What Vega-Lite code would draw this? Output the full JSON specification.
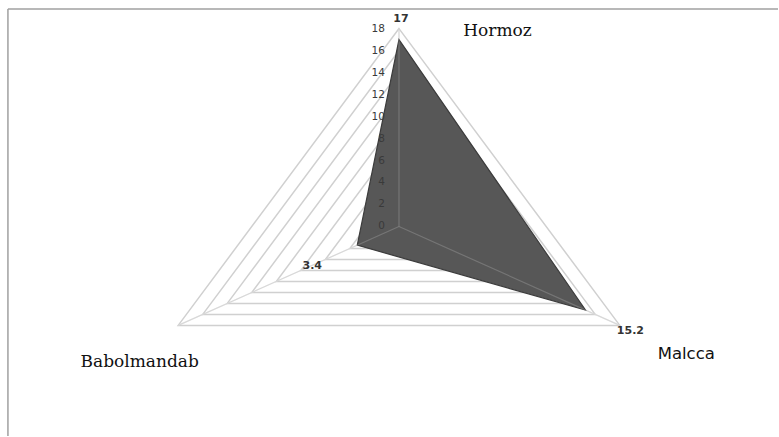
{
  "$schema": "https://vega.github.io/schema/vega-lite/v6.json",
  "width": 779,
  "height": 437,
  "autosize": {"type": "fit", "contains": "padding"},
  "padding": 0,
  "background": "white",
  "config": {"view": {"stroke": null}},
  "datasets": {
    "series": [
      {"axis": "Hormoz", "angle": 0, "value": 17},
      {"axis": "Malcca", "angle": 120, "value": 15.2},
      {"axis": "Babolmandab", "angle": 240, "value": 3.4}
    ],
    "grid": [
      {"level": 2, "angle": [0, 120, 240]},
      {"level": 4, "angle": [0, 120, 240]},
      {"level": 6, "angle": [0, 120, 240]},
      {"level": 8, "angle": [0, 120, 240]},
      {"level": 10, "angle": [0, 120, 240]},
      {"level": 12, "angle": [0, 120, 240]},
      {"level": 14, "angle": [0, 120, 240]},
      {"level": 16, "angle": [0, 120, 240]},
      {"level": 18, "angle": [0, 120, 240]}
    ],
    "ticks": [
      {"v": 0}, {"v": 2}, {"v": 4}, {"v": 6}, {"v": 8},
      {"v": 10}, {"v": 12}, {"v": 14}, {"v": 16}, {"v": 18}
    ]
  },
  "layer": [
    {
      "data": {"name": "grid"},
      "transform": [
        {"flatten": ["angle"]},
        {"calculate": "datum.level * sin(datum.angle * PI / 180)", "as": "px"},
        {"calculate": "datum.level * cos(datum.angle * PI / 180)", "as": "py"}
      ],
      "mark": {"type": "line", "interpolate": "linear-closed", "stroke": "#d0d0d0", "strokeWidth": 1.5},
      "encoding": {
        "x": {"field": "px", "type": "quantitative", "scale": {"domain": [-28.17, 26.76], "nice": false, "zero": false}, "axis": null},
        "y": {"field": "py", "type": "quantitative", "scale": {"domain": [-19.06, 20.6], "nice": false, "zero": false}, "axis": null},
        "detail": {"field": "level"},
        "order": {"field": "angle", "type": "quantitative"}
      }
    },
    {
      "data": {"values": [{}]},
      "mark": {"type": "rule", "stroke": "#a0a0a0", "strokeWidth": 1.5},
      "encoding": {
        "x": {"datum": -27.61, "type": "quantitative"},
        "x2": {"datum": 26.76},
        "y": {"datum": 19.78, "type": "quantitative"}
      }
    },
    {
      "data": {"values": [{}]},
      "mark": {"type": "rule", "stroke": "#a0a0a0", "strokeWidth": 1.5},
      "encoding": {
        "x": {"datum": -27.61, "type": "quantitative"},
        "y": {"datum": 19.78, "type": "quantitative"},
        "y2": {"datum": -19.06}
      }
    },
    {
      "data": {"name": "series"},
      "transform": [
        {"calculate": "18 * sin(datum.angle * PI / 180)", "as": "px"},
        {"calculate": "18 * cos(datum.angle * PI / 180)", "as": "py"}
      ],
      "mark": {"type": "rule", "stroke": "#d0d0d0", "strokeWidth": 1.2},
      "encoding": {
        "x": {"field": "px", "type": "quantitative"},
        "y": {"field": "py", "type": "quantitative"},
        "x2": {"datum": 0},
        "y2": {"datum": 0}
      }
    },
    {
      "data": {"name": "series"},
      "transform": [
        {"calculate": "datum.value * sin(datum.angle * PI / 180)", "as": "px"},
        {"calculate": "datum.value * cos(datum.angle * PI / 180)", "as": "py"}
      ],
      "mark": {"type": "line", "interpolate": "linear-closed", "fill": "#575757", "stroke": "#3c3c3c", "strokeWidth": 1.2},
      "encoding": {
        "x": {"field": "px", "type": "quantitative"},
        "y": {"field": "py", "type": "quantitative"},
        "order": {"field": "angle", "type": "quantitative"}
      }
    },
    {
      "data": {"name": "series"},
      "transform": [
        {"calculate": "18 * sin(datum.angle * PI / 180)", "as": "px"},
        {"calculate": "18 * cos(datum.angle * PI / 180)", "as": "py"}
      ],
      "mark": {"type": "rule", "stroke": "#ffffff", "strokeOpacity": 0.18, "strokeWidth": 1.2},
      "encoding": {
        "x": {"field": "px", "type": "quantitative"},
        "y": {"field": "py", "type": "quantitative"},
        "x2": {"datum": 0},
        "y2": {"datum": 0}
      }
    },
    {
      "data": {"name": "ticks"},
      "mark": {"type": "text", "align": "right", "dx": -14, "font": "DejaVu Sans", "fontSize": 10.5, "fill": "#3a3a3a"},
      "encoding": {
        "x": {"datum": 0, "type": "quantitative"},
        "y": {"field": "v", "type": "quantitative"},
        "text": {"field": "v", "type": "quantitative"}
      }
    },
    {
      "data": {"name": "series"},
      "transform": [
        {"filter": "datum.axis == 'Hormoz'"},
        {"calculate": "datum.value * sin(datum.angle * PI / 180)", "as": "px"},
        {"calculate": "datum.value * cos(datum.angle * PI / 180)", "as": "py"}
      ],
      "mark": {"type": "text", "dx": 2, "dy": -21, "font": "DejaVu Sans", "fontWeight": "bold", "fontSize": 11, "fill": "#333333"},
      "encoding": {
        "x": {"field": "px", "type": "quantitative"},
        "y": {"field": "py", "type": "quantitative"},
        "text": {"field": "value", "type": "quantitative"}
      }
    },
    {
      "data": {"name": "series"},
      "transform": [
        {"filter": "datum.axis == 'Malcca'"},
        {"calculate": "datum.value * sin(datum.angle * PI / 180)", "as": "px"},
        {"calculate": "datum.value * cos(datum.angle * PI / 180)", "as": "py"}
      ],
      "mark": {"type": "text", "dx": 45, "dy": 21, "font": "DejaVu Sans", "fontWeight": "bold", "fontSize": 11, "fill": "#333333"},
      "encoding": {
        "x": {"field": "px", "type": "quantitative"},
        "y": {"field": "py", "type": "quantitative"},
        "text": {"field": "value", "type": "quantitative"}
      }
    },
    {
      "data": {"name": "series"},
      "transform": [
        {"filter": "datum.axis == 'Babolmandab'"},
        {"calculate": "datum.value * sin(datum.angle * PI / 180)", "as": "px"},
        {"calculate": "datum.value * cos(datum.angle * PI / 180)", "as": "py"}
      ],
      "mark": {"type": "text", "dx": -45, "dy": 21, "font": "DejaVu Sans", "fontWeight": "bold", "fontSize": 11, "fill": "#333333"},
      "encoding": {
        "x": {"field": "px", "type": "quantitative"},
        "y": {"field": "py", "type": "quantitative"},
        "text": {"field": "value", "type": "quantitative"}
      }
    },
    {
      "data": {"name": "series"},
      "transform": [
        {"filter": "datum.axis == 'Hormoz'"},
        {"calculate": "18 * sin(datum.angle * PI / 180)", "as": "px"},
        {"calculate": "18 * cos(datum.angle * PI / 180)", "as": "py"}
      ],
      "mark": {"type": "text", "dx": 98.5, "dy": 2.4, "font": "DejaVu Serif", "fontSize": 17, "fill": "#111111"},
      "encoding": {
        "x": {"field": "px", "type": "quantitative"},
        "y": {"field": "py", "type": "quantitative"},
        "text": {"field": "axis"}
      }
    },
    {
      "data": {"name": "series"},
      "transform": [
        {"filter": "datum.axis == 'Malcca'"},
        {"calculate": "18 * sin(datum.angle * PI / 180)", "as": "px"},
        {"calculate": "18 * cos(datum.angle * PI / 180)", "as": "py"}
      ],
      "mark": {"type": "text", "dx": 66.5, "dy": 29, "font": "DejaVu Sans", "fontSize": 16.5, "fill": "#111111"},
      "encoding": {
        "x": {"field": "px", "type": "quantitative"},
        "y": {"field": "py", "type": "quantitative"},
        "text": {"field": "axis"}
      }
    },
    {
      "data": {"name": "series"},
      "transform": [
        {"filter": "datum.axis == 'Babolmandab'"},
        {"calculate": "18 * sin(datum.angle * PI / 180)", "as": "px"},
        {"calculate": "18 * cos(datum.angle * PI / 180)", "as": "py"}
      ],
      "mark": {"type": "text", "dx": -38.5, "dy": 37, "font": "DejaVu Serif", "fontSize": 17, "fill": "#111111"},
      "encoding": {
        "x": {"field": "px", "type": "quantitative"},
        "y": {"field": "py", "type": "quantitative"},
        "text": {"field": "axis"}
      }
    }
  ]
}
